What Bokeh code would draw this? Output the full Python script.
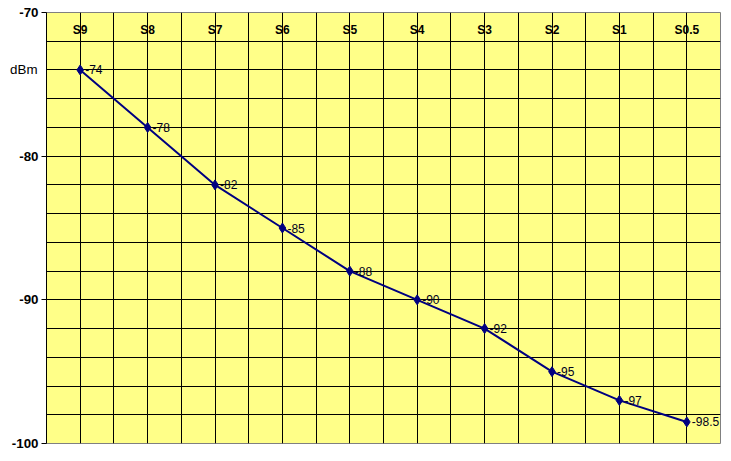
from bokeh.plotting import figure
from bokeh.models import FixedTicker, LinearAxis, ColumnDataSource
from bokeh.core.properties import value
from bokeh.embed import file_html
from bokeh.resources import INLINE

categories = ["S9", "S8", "S7", "S6", "S5", "S4", "S3", "S2", "S1", "S0.5"]
dbm = [-74, -78, -82, -85, -88, -90, -92, -95, -97, -98.5]
labels = ["-74", "-78", "-82", "-85", "-88", "-90", "-92", "-95", "-97", "-98.5"]
y_ticks = [-100, -90, -80, -70]
unit_label = "dBm"
unit_label_at = -74

FONT = "Liberation Sans"
xs = list(range(len(categories)))

p = figure(width=724, height=455, output_backend="svg", toolbar_location=None,
           x_range=(-0.5, len(categories) - 0.5), y_range=(-100, -70),
           min_border_left=46, min_border_right=4, min_border_top=12, min_border_bottom=12)
p.background_fill_color = "#FFFF88"
p.border_fill_color = "white"
p.outline_line_color = "#808080"
p.outline_line_width = 1

p.xaxis.visible = False
p.yaxis.ticker = FixedTicker(ticks=y_ticks)
p.yaxis.major_label_overrides = {t: str(t) for t in y_ticks}
p.yaxis.axis_line_color = "black"
p.yaxis.major_tick_line_color = "black"
p.yaxis.major_tick_in = 0
p.yaxis.major_tick_out = 5
p.yaxis.minor_tick_line_color = None
p.yaxis.major_label_text_font = FONT
p.yaxis.major_label_text_font_style = "bold"
p.yaxis.major_label_text_font_size = "10pt"
p.yaxis.major_label_text_color = "black"
p.yaxis.major_label_standoff = 3

unit_axis = LinearAxis(ticker=FixedTicker(ticks=[unit_label_at]),
                       major_label_overrides={unit_label_at: unit_label},
                       axis_line_color=None, major_tick_line_color=None,
                       minor_tick_line_color=None, major_tick_in=0, major_tick_out=0,
                       major_label_standoff=-29, major_label_text_font=FONT,
                       major_label_text_font_size="10pt", major_label_text_color="black")
p.add_layout(unit_axis, "left")

p.ygrid.ticker = FixedTicker(ticks=[-98 + 2 * i for i in range(15)])
p.ygrid.grid_line_color = "black"
p.ygrid.grid_line_width = 1
p.xgrid.ticker = FixedTicker(ticks=[-0.5 + 0.5 * i for i in range(2 * len(categories))])
p.xgrid.grid_line_color = "black"
p.xgrid.grid_line_width = 1

src = ColumnDataSource(dict(x=xs, y=dbm, lab=labels, cat=categories,
                            ty=[-71.25] * len(categories)))
p.line("x", "y", source=src, line_color="#000080", line_width=2)
p.scatter("x", "y", source=src, marker="diamond", size=10, fill_color="#000080",
          line_color="#000080")
p.text("x", "y", text="lab", source=src, x_offset=5, text_baseline="middle",
       text_align="left", text_font=value(FONT), text_font_size="12px", text_color="#000020")
p.text("x", "ty", text="cat", source=src, text_baseline="middle", text_align="center",
       text_font=value(FONT), text_font_size="9pt", text_font_style="bold", text_color="black")

open("out.html", "w").write(file_html(p, INLINE))
